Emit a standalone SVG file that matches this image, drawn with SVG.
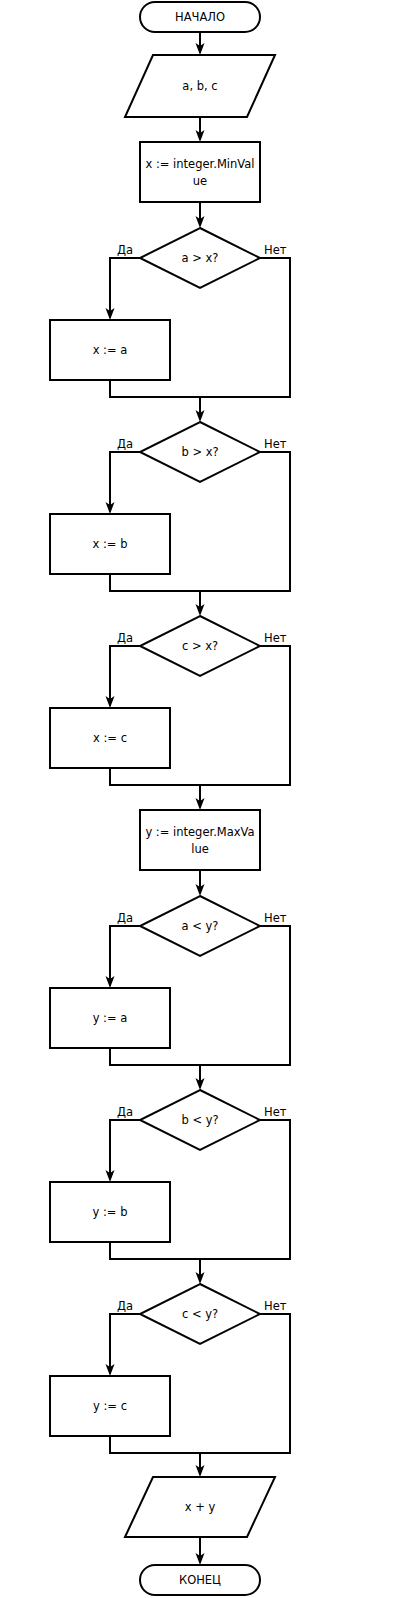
<svg xmlns="http://www.w3.org/2000/svg" width="400" height="1598" viewBox="0 0 400 1598">
<style>
.s{fill:#fff;stroke:#000;stroke-width:2}
.c{fill:none;stroke:#000;stroke-width:2}
.t{font-family:"DejaVu Sans",Verdana,sans-serif;font-size:11.5px;fill:#000;text-anchor:middle;dominant-baseline:central}
.l{font-family:"DejaVu Sans",Verdana,sans-serif;font-size:11.5px;fill:#000}
</style>
<defs>
<marker id="ah" markerUnits="userSpaceOnUse" viewBox="-1 -6 14 12" refX="5" refY="0" markerWidth="14" markerHeight="12" orient="auto">
<path d="M0,-4.5 L12,0 L0,4.5 L3,0 Z" fill="#000"/>
</marker>
</defs>
<rect width="400" height="1598" fill="#fff"/>
<g id="connectors" class="c">
<path d="M200,32 V48" marker-end="url(#ah)"/>
<path d="M200,117 V135" marker-end="url(#ah)"/>
<path d="M200,202 V221" marker-end="url(#ah)"/>
<path d="M140,258 H110 V313" marker-end="url(#ah)"/>
<path d="M260,258 H290 V397 H110 V380"/>
<path d="M200,397 V415" marker-end="url(#ah)"/>
<path d="M140,452 H110 V507" marker-end="url(#ah)"/>
<path d="M260,452 H290 V591 H110 V574"/>
<path d="M200,591 V609" marker-end="url(#ah)"/>
<path d="M140,646 H110 V701" marker-end="url(#ah)"/>
<path d="M260,646 H290 V785 H110 V768"/>
<path d="M200,785 V803" marker-end="url(#ah)"/>
<path d="M200,870 V889" marker-end="url(#ah)"/>
<path d="M140,926 H110 V981" marker-end="url(#ah)"/>
<path d="M260,926 H290 V1065 H110 V1048"/>
<path d="M200,1065 V1083" marker-end="url(#ah)"/>
<path d="M140,1120 H110 V1175" marker-end="url(#ah)"/>
<path d="M260,1120 H290 V1259 H110 V1242"/>
<path d="M200,1259 V1277" marker-end="url(#ah)"/>
<path d="M140,1314 H110 V1369" marker-end="url(#ah)"/>
<path d="M260,1314 H290 V1453 H110 V1436"/>
<path d="M200,1453 V1470" marker-end="url(#ah)"/>
<path d="M200,1537 V1558" marker-end="url(#ah)"/>
</g>
<g id="start"><rect class="s" x="140" y="2" width="120" height="30" rx="15"/><text class="t" x="200" y="17">НАЧАЛО</text></g>
<g id="input"><polygon class="s" points="153,55 275,55 247,117 125,117"/><text class="t" x="200" y="86">a, b, c</text></g>
<g id="initx"><rect class="s" x="140" y="142" width="120" height="60"/><text class="t" x="200" y="164">x := integer.MinVal</text><text class="t" x="200" y="181">ue</text></g>

<g id="d1"><polygon class="s" points="200,228 260,258 200,288 140,258"/><text class="t" x="200" y="258">a &gt; x?</text>
<text class="l" x="133" y="254" text-anchor="end">Да</text><text class="l" x="264" y="254">Нет</text></g>
<g id="p1"><rect class="s" x="50" y="320" width="120" height="60"/><text class="t" x="110" y="350">x := a</text></g>

<g id="d2"><polygon class="s" points="200,422 260,452 200,482 140,452"/><text class="t" x="200" y="452">b &gt; x?</text>
<text class="l" x="133" y="448" text-anchor="end">Да</text><text class="l" x="264" y="448">Нет</text></g>
<g id="p2"><rect class="s" x="50" y="514" width="120" height="60"/><text class="t" x="110" y="544">x := b</text></g>

<g id="d3"><polygon class="s" points="200,616 260,646 200,676 140,646"/><text class="t" x="200" y="646">c &gt; x?</text>
<text class="l" x="133" y="642" text-anchor="end">Да</text><text class="l" x="264" y="642">Нет</text></g>
<g id="p3"><rect class="s" x="50" y="708" width="120" height="60"/><text class="t" x="110" y="738">x := c</text></g>

<g id="inity"><rect class="s" x="140" y="810" width="120" height="60"/><text class="t" x="200" y="832">y := integer.MaxVa</text><text class="t" x="200" y="849">lue</text></g>

<g id="d4"><polygon class="s" points="200,896 260,926 200,956 140,926"/><text class="t" x="200" y="926">a &lt; y?</text>
<text class="l" x="133" y="922" text-anchor="end">Да</text><text class="l" x="264" y="922">Нет</text></g>
<g id="p4"><rect class="s" x="50" y="988" width="120" height="60"/><text class="t" x="110" y="1018">y := a</text></g>

<g id="d5"><polygon class="s" points="200,1090 260,1120 200,1150 140,1120"/><text class="t" x="200" y="1120">b &lt; y?</text>
<text class="l" x="133" y="1116" text-anchor="end">Да</text><text class="l" x="264" y="1116">Нет</text></g>
<g id="p5"><rect class="s" x="50" y="1182" width="120" height="60"/><text class="t" x="110" y="1212">y := b</text></g>

<g id="d6"><polygon class="s" points="200,1284 260,1314 200,1344 140,1314"/><text class="t" x="200" y="1314">c &lt; y?</text>
<text class="l" x="133" y="1310" text-anchor="end">Да</text><text class="l" x="264" y="1310">Нет</text></g>
<g id="p6"><rect class="s" x="50" y="1376" width="120" height="60"/><text class="t" x="110" y="1406">y := c</text></g>

<g id="output"><polygon class="s" points="153,1477 275,1477 247,1537 125,1537"/><text class="t" x="200" y="1507">x + y</text></g>
<g id="end"><rect class="s" x="140" y="1565" width="120" height="30" rx="15"/><text class="t" x="200" y="1580">КОНЕЦ</text></g>
</svg>
